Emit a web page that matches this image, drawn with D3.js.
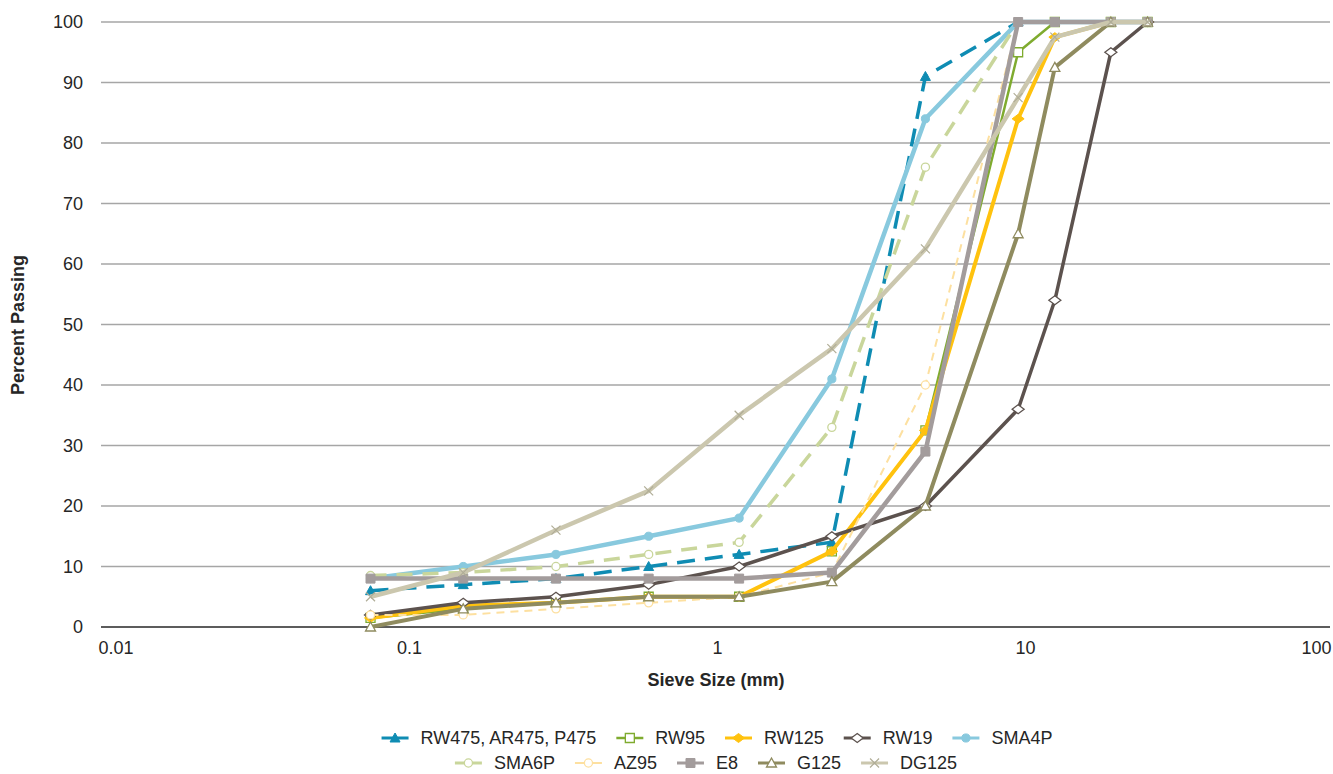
<!DOCTYPE html>
<html>
<head>
<meta charset="utf-8">
<script src="https://cdn.jsdelivr.net/npm/d3@7"></script>
<style>
  html, body { margin: 0; padding: 0; background: #fff; }
  svg { display: block; font-family: "Liberation Sans", Arial, sans-serif; }
</style>
</head>
<body>
<svg id="chart" width="1333" height="774"></svg>
<script>
// Sieve sizes (mm) and cumulative percent passing for each gradation
const sieveSizes = [0.075, 0.15, 0.3, 0.6, 1.18, 2.36, 4.75, 9.5, 12.5, 19, 25];
const rw475 = [6, 7, 8, 10, 12, 14, 91, 100, 100, 100, 100];
const rw95  = [1.5, 3, 4, 5, 5, 12.5, 32.5, 95, 100, 100, 100];
const rw125 = [1.5, 3.5, 4, 5, 5, 12.5, 32.5, 84, 97.5, 100, 100];
const rw19  = [2, 4, 5, 7, 10, 15, 20, 36, 54, 95, 100];
const sma4p = [8, 10, 12, 15, 18, 41, 84, 100, 100, 100, 100];
const sma6p = [8.5, 9, 10, 12, 14, 33, 76, 100, 100, 100, 100];
const az95  = [2, 2, 3, 4, 5, 9, 40, 100, 100, 100, 100];
const e8    = [8, 8, 8, 8, 8, 9, 29, 100, 100, 100, 100];
const g125  = [0, 3, 4, 5, 5, 7.5, 20, 65, 92.5, 100, 100];
const dg125 = [5, 9, 16, 22.5, 35, 46, 62.5, 87.5, 97.5, 100, 100];

const xTicks = [0.01, 0.1, 1, 10, 100];
const yTicks = [0, 10, 20, 30, 40, 50, 60, 70, 80, 90, 100];

const seriesNames = ["RW475, AR475, P475", "RW95", "RW125", "RW19", "SMA4P",
                     "SMA6P", "AZ95", "E8", "G125", "DG125"];
const seriesValues = [rw475, rw95, rw125, rw19, sma4p, sma6p, az95, e8, g125, dg125];

// Line and marker styling per series
const styles = [
  { color: "#0f8cb3", width: 3.5, dash: "18,10", marker: "triangle", fill: "solid" },
  { color: "#7fab2f", width: 2.5, dash: null,    marker: "square",   fill: "open" },
  { color: "#ffc20e", width: 4,   dash: null,    marker: "diamond",  fill: "solid" },
  { color: "#5c524e", width: 3.5, dash: null,    marker: "diamond",  fill: "open" },
  { color: "#88c9de", width: 4.5, dash: null,    marker: "circle",   fill: "solid" },
  { color: "#c9d69b", width: 3.5, dash: "16,10", marker: "circle",   fill: "open" },
  { color: "#fde0a0", width: 2,   dash: "8,6",   marker: "circle",   fill: "open" },
  { color: "#a39c9c", width: 4.5, dash: null,    marker: "square",   fill: "solid" },
  { color: "#8f8b5f", width: 4,   dash: null,    marker: "triangle", fill: "open" },
  { color: "#cbc7ae", width: 4.5, dash: null,    marker: "x",        fill: "solid" }
];

const svg = d3.select("#chart");
const plotLeft = 101, plotRight = 1333, plotTop = 22, plotBottom = 627;

const x = d3.scaleLog().domain([0.01, 100]).range([plotLeft, plotRight]);
const y = d3.scaleLinear().domain([0, 100]).range([plotBottom, plotTop]);

// Horizontal gridlines
svg.append("g")
  .selectAll("line")
  .data(yTicks.filter(d => d > 0))
  .join("line")
  .attr("x1", plotLeft).attr("x2", plotRight - 3)
  .attr("y1", d => y(d)).attr("y2", d => y(d))
  .attr("stroke", "#a6a6a6").attr("stroke-width", 1.3);

// Y axis labels
const yAxis = d3.axisLeft(y).tickValues(yTicks).tickSize(0).tickPadding(18);
const gy = svg.append("g").attr("transform", `translate(${plotLeft},0)`).call(yAxis);
gy.select(".domain").remove();
gy.selectAll("text").attr("font-size", 18).attr("fill", "#262626")
  .attr("font-family", "Liberation Sans, Arial, sans-serif");

// X axis
const xAxis = d3.axisBottom(x).tickValues(xTicks).tickSize(0).tickPadding(14)
  .tickFormat(d3.format("~g"));
const gx = svg.append("g").attr("transform", `translate(0,${plotBottom})`).call(xAxis);
gx.select(".domain").attr("stroke", "#262626").attr("stroke-width", 1.5)
  .attr("d", `M${plotLeft},0H${plotRight - 3}`);
gx.selectAll("text").attr("font-size", 18).attr("fill", "#262626")
  .attr("font-family", "Liberation Sans, Arial, sans-serif")
  .attr("text-anchor", (d, i) => i === 0 ? "start" : (i === xTicks.length - 1 ? "end" : "middle"))
  .attr("dx", (d, i) => i === 0 ? -3 : (i === xTicks.length - 1 ? -2 : 0));

// Axis titles
svg.append("text")
  .attr("x", 716).attr("y", 686)
  .attr("text-anchor", "middle")
  .attr("font-size", 18).attr("font-weight", "bold").attr("fill", "#262626")
  .text("Sieve Size (mm)");
svg.append("text")
  .attr("transform", "translate(24,325) rotate(-90)")
  .attr("text-anchor", "middle")
  .attr("font-size", 18).attr("font-weight", "bold").attr("fill", "#262626")
  .text("Percent Passing");

// Marker shapes, centred on the origin
const markerPath = {
  triangle: "M0,-5L5,4L-5,4Z",
  square: "M-4.5,-4.5H4.5V4.5H-4.5Z",
  diamond: "M0,-4.5L6,0L0,4.5L-6,0Z",
  circle: d3.symbol().type(d3.symbolCircle).size(52)(),
  x: "M-4.5,-4.5L4.5,4.5M-4.5,4.5L4.5,-4.5"
};

function drawMarker(g, st, cx, cy) {
  const p = g.append("path")
    .attr("d", markerPath[st.marker])
    .attr("transform", `translate(${cx},${cy})`);
  if (st.marker === "x") {
    p.attr("fill", "none").attr("stroke", d3.color(st.color).darker(0.4)).attr("stroke-width", 1.2);
  } else {
    p.attr("fill", st.fill === "open" ? "#fff" : st.color)
      .attr("stroke", st.color)
      .attr("stroke-width", st.fill === "open" ? 1.3 : 1);
  }
}

// Series lines and markers
const line = d3.line().x(d => x(d[0])).y(d => y(d[1]));
const plot = svg.append("g");
seriesValues.forEach((vals, i) => {
  const st = styles[i];
  const pts = sieveSizes.map((s, j) => [s, vals[j]]);
  const g = plot.append("g");
  g.append("path")
    .attr("d", line(pts))
    .attr("fill", "none")
    .attr("stroke", st.color)
    .attr("stroke-width", st.width)
    .attr("stroke-linejoin", "round")
    .attr("stroke-dasharray", st.dash);
  pts.forEach(p => drawMarker(g, st, x(p[0]), y(p[1])));
});

// Legend in two centred rows
const legendRows = [[0, 1, 2, 3, 4], [5, 6, 7, 8, 9]];
const rowY = [738, 763];
const rowCentre = [717, 706];
const iconW = 27, iconGap = 12, itemGap = 20;
legendRows.forEach((row, r) => {
  const lg = svg.append("g");
  let cx = 0;
  row.forEach(i => {
    const st = styles[i];
    const item = lg.append("g").attr("transform", `translate(${cx},0)`);
    item.append("line")
      .attr("x1", 0).attr("x2", iconW).attr("y1", 0).attr("y2", 0)
      .attr("stroke", st.color).attr("stroke-width", Math.min(st.width, 3));
    drawMarker(item, st, iconW / 2, 0);
    const t = item.append("text")
      .attr("x", iconW + iconGap).attr("y", 0).attr("dy", "0.35em")
      .attr("font-size", 18).attr("fill", "#262626")
      .text(seriesNames[i]);
    cx += iconW + iconGap + t.node().getComputedTextLength() + itemGap;
  });
  const total = cx - itemGap;
  lg.attr("transform", `translate(${rowCentre[r] - total / 2},${rowY[r]})`);
});
</script>
</body>
</html>
